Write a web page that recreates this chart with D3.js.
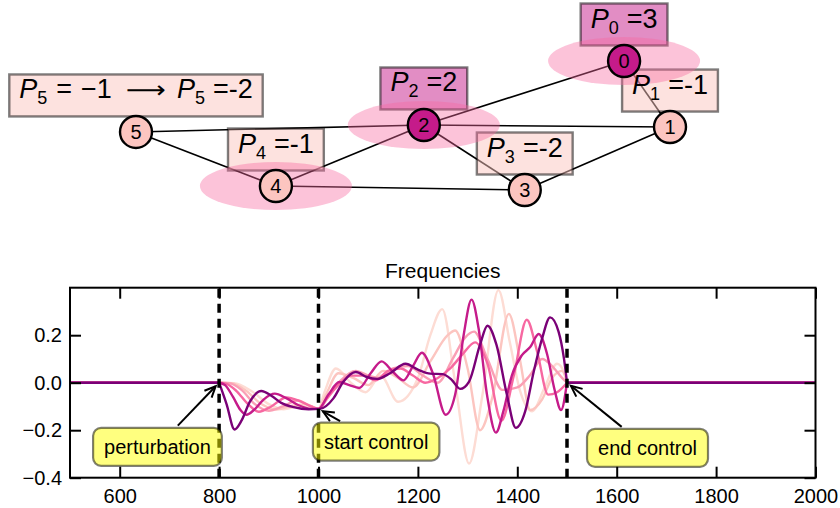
<!DOCTYPE html>
<meta charset="utf-8">
<head>
    <title>Frequencies</title>
    <script src="https://cdn.jsdelivr.net/npm/d3@7"></script>
</head>

<style>
    body { margin: 0; background: #fff; }
    svg { font-family: "Liberation Sans", Arial, sans-serif; }
    .tick line { stroke: #000; stroke-width: 2px; }
    .tick text { font-size: 20px; fill: #000; }
</style>

<svg id="chart"></svg>

<script>
    var vWidth = 840;
    var vHeight = 508;

    // ---- network (top) ----
    var nodeIds = [0, 1, 2, 3, 4, 5];
    var nodeX = [0.914, 1.0, 0.539, 0.728, 0.262, 0.0];
    var nodeY = [1.0, 0.488, 0.504, 0.0, 0.031, 0.450];
    var nodeDark = [1, 0, 1, 0, 0, 0];
    var nodeHalo = [1, 0, 1, 0, 1, 0];
    var nodeOld = [null, null, null, null, null, "\u22121"];
    var nodeNew = ["=3", "=-1", "=2", "=-2", "=-1", "=-2"];
    var edges = [[5, 2], [5, 4], [4, 2], [4, 3], [2, 0], [2, 1], [2, 3], [3, 1], [0, 1]];

    // ---- frequencies (bottom) ----
    var xTicks = [600, 800, 1000, 1200, 1400, 1600, 1800, 2000];
    var yTicks = [-0.4, -0.2, 0.0, 0.2];
    var eventX = [800, 1000, 1500];
    var seriesColors = ["#fddcd4", "#fcc5c0", "#fa9fb5", "#f768a1", "#c51b8a", "#7a0177"];
    var flatBefore = [[500, 0], [800, 0]];
    var flatAfter = [[1500, 0], [2000, 0]];

    var s0 = [[800,0],[830,-0.002],[865,-0.035],[900,-0.09],[930,-0.112],[960,-0.1],[985,-0.1],[1000,-0.11],
        [1012,-0.04],[1035,0.06],[1065,0.0],[1095,-0.04],[1125,0.03],[1160,-0.08],[1200,0.02],[1225,0.2],
        [1249,0.31],[1275,0.0],[1303,-0.34],[1330,-0.05],[1362,0.39],[1385,0.17],[1405,-0.03],[1430,-0.12],
        [1455,-0.02],[1480,0.08],[1495,0.04],[1500,0]];
    var s1 = [[800,0],[825,-0.002],[855,-0.035],[885,-0.09],[915,-0.113],[945,-0.098],[975,-0.09],[1000,-0.11],
        [1015,-0.05],[1040,0.04],[1070,0.02],[1100,-0.01],[1130,0.05],[1160,0.02],[1190,-0.02],[1225,0.09],
        [1260,0.2],[1275,0.22],[1300,0.06],[1325,-0.2],[1350,-0.06],[1383,0.29],[1405,0.1],[1426,-0.115],
        [1450,-0.07],[1470,0.02],[1490,0.05],[1500,0]];
    var s2 = [[800,0],[820,-0.002],[845,-0.03],[872,-0.09],[900,-0.118],[928,-0.1],[958,-0.075],[985,-0.1],
        [1000,-0.11],[1020,-0.06],[1045,0.01],[1075,0.05],[1100,0.03],[1125,0.02],[1150,0.06],[1180,0.07],
        [1210,0.03],[1240,0.0],[1270,0.1],[1295,0.19],[1313,0.215],[1340,0.1],[1370,-0.03],[1400,-0.02],
        [1425,0.03],[1450,0.1],[1470,0.07],[1490,0.02],[1500,0]];
    var s3 = [[800,0],[815,-0.005],[835,-0.035],[858,-0.09],[880,-0.122],[905,-0.1],[935,-0.062],[960,-0.075],
        [985,-0.1],[1000,-0.11],[1015,-0.07],[1040,-0.01],[1065,0.03],[1090,0.03],[1115,0.01],[1140,0.05],
        [1165,0.06],[1190,0.03],[1215,0.0],[1240,0.02],[1265,0.06],[1290,0.12],[1315,0.17],[1340,0.08],
        [1368,-0.16],[1393,0.03],[1419,0.265],[1440,0.13],[1462,-0.05],[1480,-0.04],[1500,0]];
    var s4 = [[800,0],[812,-0.01],[828,-0.06],[843,-0.115],[855,-0.135],[870,-0.115],[890,-0.07],[912,-0.046],
        [935,-0.065],[960,-0.095],[985,-0.11],[1000,-0.11],[1020,-0.05],[1042,0.003],[1062,-0.01],[1082,-0.022],
        [1105,0.04],[1127,0.09],[1150,0.045],[1171,0.01],[1190,0.07],[1208,0.126],[1230,0.04],[1256,-0.135],
        [1275,-0.05],[1292,0.2],[1308,0.35],[1322,0.23],[1339,-0.05],[1357,-0.21],[1372,-0.12],[1389,0.03],
        [1409,0.115],[1426,0.15],[1443,0.205],[1460,0.12],[1475,-0.03],[1488,-0.115],[1500,0]];
    var s5 = [[800,0],[815,-0.09],[831,-0.197],[845,-0.16],[862,-0.08],[885,-0.035],[905,-0.055],[925,-0.085],
        [950,-0.103],[980,-0.112],[1003,-0.11],[1030,-0.066],[1050,0.004],[1075,0.045],[1097,0.024],[1118,0.016],
        [1144,0.04],[1175,0.08],[1200,0.055],[1225,0.038],[1250,0.036],[1268,0.012],[1285,-0.026],[1303,0.005],
        [1325,0.16],[1340,0.24],[1358,0.16],[1379,-0.05],[1397,-0.19],[1416,-0.12],[1433,0.046],[1450,0.187],
        [1466,0.275],[1483,0.215],[1494,0.1],[1500,0]];
    var allSeries = [s0, s1, s2, s3, s4, s5];

    var noteText = ["perturbation", "start control", "end control"];
    var noteAt = [[800, 0], [1000, -0.11], [1500, 0]];
    var noteBox = [[676, -0.27], [1116, -0.248], [1662, -0.274]];

    var svg = d3.select('#chart').attr('width', vWidth).attr('height', vHeight);

    // ---------- network ----------
    var gx = d3.scaleLinear().domain([0, 1]).range([136, 670]);
    var gy = d3.scaleLinear().domain([0, 1]).range([190, 61]);
    var gEdges = svg.append('g');
    var gBoxes = svg.append('g');
    var gHalos = svg.append('g');
    var gLabels = svg.append('g');
    var gNodes = svg.append('g');

    gEdges.selectAll('line').data(edges).enter().append('line')
        .attr('x1', function (d) { return gx(nodeX[d[0]]); })
        .attr('y1', function (d) { return gy(nodeY[d[0]]); })
        .attr('x2', function (d) { return gx(nodeX[d[1]]); })
        .attr('y2', function (d) { return gy(nodeY[d[1]]); })
        .attr('stroke', '#000').attr('stroke-width', 1.6);

    nodeIds.forEach(function (i) {
        var t = gLabels.append('text').attr('font-size', 27).attr('fill', '#000');
        function addP(gap) {
            t.append('tspan').attr('font-style', 'italic').attr('dx', gap).text('P');
            t.append('tspan').attr('font-size', 18).attr('dy', 6).text(i);
        }
        addP(0);
        if (nodeOld[i] !== null) {
            t.append('tspan').attr('dy', -6).attr('dx', 9).text('=');
            t.append('tspan').attr('dx', 9).text(nodeOld[i]);
            t.append('tspan').attr('dx', 14).attr('textLength', 40).attr('lengthAdjust', 'spacingAndGlyphs')
                .attr('font-family', 'DejaVu Sans').attr('font-size', 24).text('\u27F6');
            addP(11);
            t.append('tspan').attr('dy', -6).attr('dx', 8).text(nodeNew[i]);
        } else {
            t.append('tspan').attr('dy', -6).attr('dx', 8).text(nodeNew[i]);
        }
        var cx = gx(nodeX[i]), cy = gy(nodeY[i]) - 36.5;
        t.attr('x', 0).attr('y', cy + 3);
        var bb = t.node().getBBox();
        var w = bb.width;
        t.attr('x', cx - w / 2);
        var c = nodeDark[i] ? '#c51b8a' : '#fcc5c0';
        gBoxes.append('rect')
            .attr('x', cx - w / 2 - 10).attr('y', cy - 21).attr('width', w + 20).attr('height', 42)
            .attr('fill', c).attr('fill-opacity', 0.5)
            .attr('stroke', '#000').attr('stroke-opacity', 0.5).attr('stroke-width', 2.4);
    });

    gHalos.selectAll('ellipse').data(nodeIds.filter(function (i) { return nodeHalo[i]; }))
        .enter().append('ellipse')
        .attr('cx', function (i) { return gx(nodeX[i]); })
        .attr('cy', function (i) { return gy(nodeY[i]); })
        .attr('rx', 76).attr('ry', 24)
        .attr('fill', '#f768a1').attr('fill-opacity', 0.4);

    var nodes = gNodes.selectAll('g').data(nodeIds).enter().append('g')
        .attr('transform', function (i) { return 'translate(' + gx(nodeX[i]) + ',' + gy(nodeY[i]) + ')'; });
    nodes.append('circle').attr('r', 16)
        .attr('fill', function (i) { return nodeDark[i] ? '#c51b8a' : '#fcc5c0'; })
        .attr('stroke', '#000').attr('stroke-width', 2.4);
    nodes.append('text').attr('text-anchor', 'middle').attr('dy', '0.36em')
        .attr('font-size', 20).text(function (i) { return i; });

    // ---------- frequencies ----------
    var x = d3.scaleLinear().domain([500, 2000]).range([70, 815.5]);
    var y = d3.scaleLinear().domain([-0.4, 0.4]).range([477.7, 287.7]);

    svg.append('defs').append('clipPath').attr('id', 'plot')
        .append('rect').attr('x', 70).attr('y', 287.7).attr('width', 745.5).attr('height', 190);

    var flat = d3.line().x(function (d) { return x(d[0]); }).y(function (d) { return y(d[1]); });
    var smooth = d3.line().x(function (d) { return x(d[0]); }).y(function (d) { return y(d[1]); })
        .curve(d3.curveMonotoneX);

    var plot = svg.append('g').attr('clip-path', 'url(#plot)');
    plot.selectAll('path.series').data(allSeries).enter().append('path')
        .attr('d', function (s) { return flat(flatBefore) + smooth(s) + flat(flatAfter); })
        .attr('fill', 'none')
        .attr('stroke', function (s, i) { return seriesColors[i]; })
        .attr('stroke-width', 2.4)
        .attr('stroke-linejoin', 'round');

    plot.selectAll('line.event').data(eventX).enter().append('line')
        .attr('x1', function (d) { return x(d); }).attr('x2', function (d) { return x(d); })
        .attr('y1', y(-0.4)).attr('y2', y(0.4))
        .attr('stroke', '#000').attr('stroke-width', 3.5).attr('stroke-dasharray', '9,6');

    svg.append('text').attr('x', (70 + 815.5) / 2).attr('y', 278).attr('text-anchor', 'middle')
        .attr('font-size', 21).text('Frequencies');

    function clean(g) { g.select('.domain').remove(); }
    svg.append('g').attr('transform', 'translate(0,' + y(-0.4) + ')')
        .call(d3.axisBottom(x).tickValues(xTicks).tickSize(-11).tickPadding(11).tickFormat(d3.format('d'))).call(clean);
    svg.append('g').attr('transform', 'translate(0,' + y(0.4) + ')')
        .call(d3.axisTop(x).tickValues(xTicks).tickSize(-11).tickFormat('')).call(clean);
    svg.append('g').attr('transform', 'translate(' + x(500) + ',0)')
        .call(d3.axisLeft(y).tickValues(yTicks).tickSize(-11).tickPadding(8).tickFormat(d3.format('.1f'))).call(clean);
    svg.append('g').attr('transform', 'translate(' + x(2000) + ',0)')
        .call(d3.axisRight(y).tickValues(yTicks).tickSize(-11).tickFormat('')).call(clean);
    svg.selectAll('.tick text').attr('font-family', '"Liberation Sans", Arial, sans-serif');

    svg.append('rect').attr('x', 70).attr('y', y(0.4)).attr('width', 745.5).attr('height', y(-0.4) - y(0.4))
        .attr('fill', 'none').attr('stroke', '#000').attr('stroke-width', 2);

    // annotations
    var notes = svg.append('g');
    noteText.forEach(function (txt, k) {
        var cx = x(noteBox[k][0]), cy = y(noteBox[k][1]);
        var tx = x(noteAt[k][0]), ty = y(noteAt[k][1]);
        var g = notes.append('g');
        var r = g.append('rect');
        var t = g.append('text').attr('x', cx).attr('y', cy).attr('dy', '0.35em')
            .attr('text-anchor', 'middle').attr('font-size', 20).text(txt);
        var w = t.node().getComputedTextLength() + 22, h = 38;
        r.attr('x', cx - w / 2).attr('y', cy - h / 2).attr('width', w).attr('height', h)
            .attr('rx', 8).attr('fill', '#ffff00').attr('fill-opacity', 0.5)
            .attr('stroke', '#000').attr('stroke-opacity', 0.5).attr('stroke-width', 2.2);
        var dx = tx - cx, dy = ty - cy, len = Math.sqrt(dx * dx + dy * dy);
        var s = Math.min((w / 2) / Math.abs(dx), (h / 2) / Math.abs(dy));
        var ux = dx / len, uy = dy / len;
        var x0 = cx + dx * s + ux * 3, y0 = cy + dy * s + uy * 3;
        var x1 = tx - ux * 5, y1 = ty - uy * 5;
        notes.append('line').attr('x1', x0).attr('y1', y0).attr('x2', x1).attr('y2', y1)
            .attr('stroke', '#000').attr('stroke-width', 2);
        var hl = 11, hw = 5;
        notes.append('path')
            .attr('d', 'M' + (x1 - ux * hl - uy * hw) + ',' + (y1 - uy * hl + ux * hw) +
                'L' + x1 + ',' + y1 +
                'L' + (x1 - ux * hl + uy * hw) + ',' + (y1 - uy * hl - ux * hw))
            .attr('fill', 'none').attr('stroke', '#000').attr('stroke-width', 2);
    });
</script>
